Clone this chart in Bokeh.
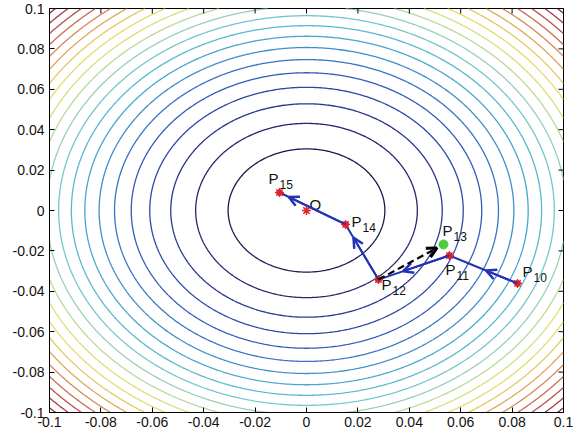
import numpy as np
from bokeh.plotting import figure
from bokeh.models import (FixedTicker, CustomJSTickFormatter, Arrow,
                          OpenHead, ColumnDataSource, Range1d)
from bokeh.core.properties import value
from bokeh.embed import file_html
from bokeh.resources import INLINE

# ---- data ----
path_names = ["10", "11", "12", "14", "15"]
path_x = [0.0821, 0.0556, 0.0280, 0.0152, -0.0105]
path_y = [-0.0361, -0.0223, -0.0342, -0.0069, 0.0089]
p13_x = [0.0533]
p13_y = [-0.0168]
opt_x = [0.0]
opt_y = [0.0]
ticks = [-0.1, -0.08, -0.06, -0.04, -0.02, 0.0, 0.02, 0.04, 0.06, 0.08, 0.1]
levels = [0.00093, 0.00186, 0.00279, 0.00372, 0.00465, 0.00558, 0.00651,
          0.00744, 0.00837, 0.0093, 0.01023, 0.01116, 0.01209, 0.01302,
          0.01395, 0.01488, 0.01581, 0.01674, 0.01767, 0.0186, 0.01953]

# ---- styles ----
level_colors = ["#1a1a50", "#24286e", "#2a3690", "#2e48a8", "#335cba", "#3874c4",
                "#408ecc", "#48a6d0", "#58b8d0", "#74c6cc", "#96d0b8", "#b8da98",
                "#d4e07c", "#e4dc6a", "#e6c860", "#e0a858", "#d68852", "#c86a50",
                "#b8504c", "#a23a46", "#86283c"]
arrow_frac = [0.46, 0.65, 0.76, 0.86]
dash_frac = 0.9
blue = "#2433b4"
font = value("Liberation Sans")

p = figure(frame_width=514, frame_height=404,
           x_range=Range1d(-0.1, 0.1), y_range=Range1d(-0.1, 0.1),
           output_backend="svg", toolbar_location=None,
           min_border_left=49, min_border_right=22, min_border_top=8, min_border_bottom=29,
           background_fill_color="white", border_fill_color="white")
p.grid.visible = False
p.outline_line_color = "black"
p.outline_line_width = 1

fmt = CustomJSTickFormatter(code="return String(parseFloat(tick.toFixed(4)));")
for ax in [p.xaxis[0], p.yaxis[0]]:
    ax.ticker = FixedTicker(ticks=ticks)
    ax.formatter = fmt
    ax.major_tick_in = 5
    ax.major_tick_out = 0
    ax.minor_tick_in = 0
    ax.minor_tick_out = 0
    ax.major_label_text_font = "Liberation Sans"
    ax.major_label_text_font_size = "14px"
    ax.major_label_text_color = "#111111"
    ax.axis_line_color = "black"
    ax.major_tick_line_color = "black"
p.xaxis[0].major_label_standoff = 4
p.yaxis[0].major_label_standoff = 5

# contours of the objective
gx = np.linspace(-0.1, 0.1, 301)
gy = np.linspace(-0.1, 0.1, 301)
GX, GY = np.meshgrid(gx, gy)
Z = GX ** 2 + GY ** 2
p.contour(x=gx, y=gy, z=Z, levels=levels, line_color=level_colors, line_width=1.3)

# box ticks on the top and right edges (half of each dash is clipped by the frame)
n = len(ticks)
p.scatter(ticks, [ticks[-1]] * n, marker="dash", size=10, angle=np.pi / 2,
          line_color="black", line_width=1)
p.scatter([ticks[-1]] * n, ticks, marker="dash", size=10, angle=0,
          line_color="black", line_width=1)

# path
p.line(path_x, path_y, line_color=blue, line_width=2)
xs = path_x[:-1]
ys = path_y[:-1]
xe = [a + f * (b - a) for a, b, f in zip(path_x[:-1], path_x[1:], arrow_frac)]
ye = [a + f * (b - a) for a, b, f in zip(path_y[:-1], path_y[1:], arrow_frac)]
asrc = ColumnDataSource(dict(x_start=xs, y_start=ys, x_end=xe, y_end=ye))
p.add_layout(Arrow(source=asrc, x_start="x_start", y_start="y_start", x_end="x_end", y_end="y_end",
                   line_color=blue, line_width=2,
                   end=OpenHead(size=10, line_color=blue, line_width=2.5)))

# dashed direction P12 -> P13
i12 = path_names.index("12")
dx_end = path_x[i12] + dash_frac * (p13_x[0] - path_x[i12])
dy_end = path_y[i12] + dash_frac * (p13_y[0] - path_y[i12])
p.add_layout(Arrow(x_start=path_x[i12], y_start=path_y[i12], x_end=dx_end, y_end=dy_end,
                   line_color="black", line_width=2.2, line_dash="7 4",
                   end=OpenHead(size=10, line_color="black", line_width=3)))

# markers
p.scatter(path_x, path_y, marker="circle", size=6, color="#e8202a")
p.scatter(path_x, path_y, marker="asterisk", size=9, line_color="#e8202a", line_width=1.2)
p.scatter(opt_x, opt_y, marker="asterisk", size=9, line_color="#e8202a", line_width=1.5)
p.scatter(p13_x, p13_y, marker="circle", size=9, color="#4ccc3a")

# labels
lab_names = path_names + ["13"]
lab_x = path_x + p13_x
lab_y = path_y + p13_y
px_off = [5, -4, 3, 6, -11, -1]
py_off = [-12, 14, 5, -3, -14, -14]
src = ColumnDataSource(dict(x=lab_x, y=lab_y, t=["P"] * len(lab_x), s=lab_names,
                            xo=px_off, yo=py_off,
                            sxo=[o + 11 for o in px_off], syo=[o + 6 for o in py_off]))
p.text(x="x", y="y", text="t", x_offset="xo", y_offset="yo", source=src,
       text_font=font, text_font_size="15px", text_color="#111111",
       text_align="left", text_baseline="alphabetic")
p.text(x="x", y="y", text="s", x_offset="sxo", y_offset="syo", source=src,
       text_font=font, text_font_size="12px", text_color="#111111",
       text_align="left", text_baseline="alphabetic")
p.text(x=opt_x, y=opt_y, text=["O"], x_offset=3, y_offset=-6,
       text_font=font, text_font_size="15px", text_color="#111111",
       text_align="left", text_baseline="alphabetic")

open("out.html", "w").write(file_html(p, INLINE))
